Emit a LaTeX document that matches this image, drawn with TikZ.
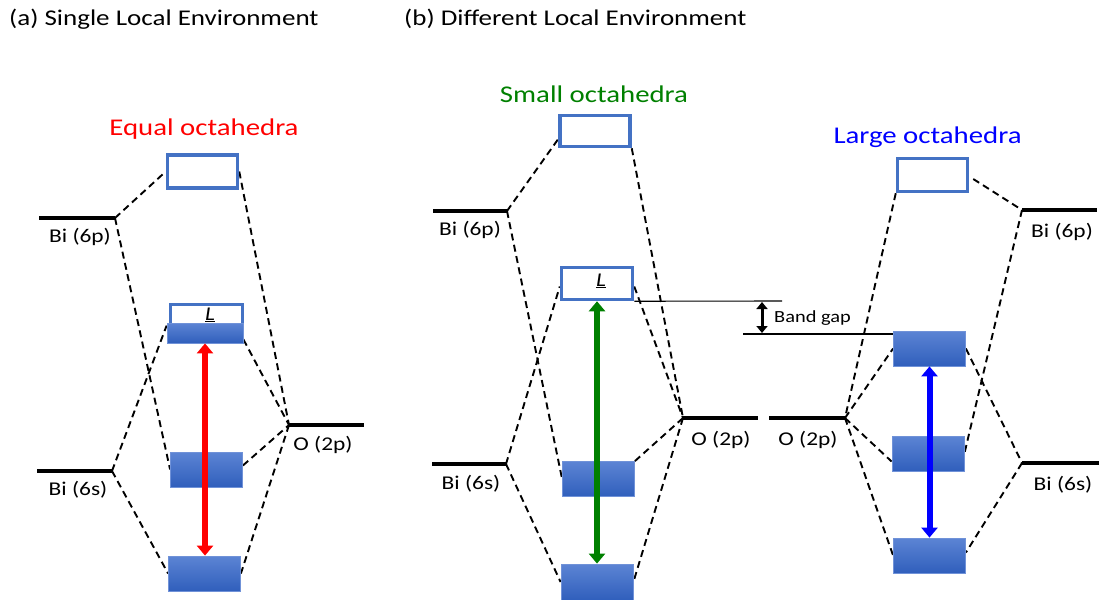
\documentclass[tikz,border=0pt]{standalone}
\usepackage{fontspec}
\setmainfont{Carlito}[FakeStretch=1.2]
\usetikzlibrary{arrows.meta,calc}
\definecolor{oboxc}{RGB}{68,114,196}
\definecolor{ftop}{RGB}{92,132,212}
\definecolor{fbot}{RGB}{48,95,188}
\definecolor{fedge}{RGB}{112,146,216}
\definecolor{grn}{RGB}{0,128,0}
\pgfdeclarelayer{bg}
\pgfsetlayers{bg,main}
\begin{document}
\begin{tikzpicture}[x=1pt,y=-1pt,
  level/.style={line width=4.5pt},
  conn/.style={line width=1.9pt, dash pattern=on 7pt off 4.5pt},
  obox/.style={draw=oboxc, line width=3.5pt, minimum width=70pt, minimum height=33pt, inner sep=0pt, fill=white},
  fbox/.style={draw=fedge, line width=0.8pt, top color=ftop, bottom color=fbot, minimum width=72pt, minimum height=35pt, inner sep=0pt},
  lbl/.style={font=\fontsize{19.5}{22}\selectfont, inner sep=0pt},
  ttl/.style={font=\fontsize{22.5}{26}\selectfont, inner sep=0pt, anchor=west},
  hd/.style={font=\fontsize{24}{28}\selectfont, inner sep=0pt},
  bigarrow/.style={line width=6.5pt, {Triangle[width=16pt,length=10pt]}-{Triangle[width=16pt,length=10pt]}},
  gaparrow/.style={line width=3pt, {Triangle[width=11pt,length=7pt]}-{Triangle[width=11pt,length=7pt]}},
  thin/.style={line width=1.1pt}
]
\useasboundingbox (0,0) rectangle (1099,599);

% titles
\node[ttl] (ta) at (9,19) {(a) Single Local Environment};
\node[ttl] (tb) at (404,19) {(b) Different Local Environment};
\node[hd, text=red] (hA) at (204,129) {Equal octahedra};
\node[hd, text=grn] (hS) at (594,94) {Small octahedra};
\node[hd, text=blue] (hL) at (927.5,137.5) {Large octahedra};

% ---------- (a) boxes
\node[obox] (topA) at (202.5,171.5) {};
\node[obox, minimum width=72pt, minimum height=35pt] (LAo) at (206.5,322) {};
\node[fbox, minimum width=76pt, minimum height=20pt] (LAf) at (205,333) {};
\node[lbl] (LAl) at (210,315) {\underline{\textit{L}}};
\node[fbox] (midA) at (206.5,469.5) {};
\node[fbox] (botA) at (204.5,573.5) {};

% ---------- (b) small boxes
\node[obox, minimum height=31pt] (topS) at (595,131) {};
\node[obox, minimum width=71pt, minimum height=32pt] (LS) at (597,283.5) {};
\node[lbl] (LSl) at (601,281) {\underline{\textit{L}}};
\node[fbox] (midS) at (598.5,479) {};
\node[fbox, minimum height=36pt] (botS) at (597,582) {};

% ---------- (b) large boxes
\node[obox] (topL) at (932.5,175) {};
\node[fbox] (homoL) at (929.5,348.5) {};
\node[fbox] (midL) at (928,453.5) {};
\node[fbox] (botL) at (929.5,555.5) {};

% ---------- level coordinates
\coordinate (A6pL) at (39,218);   \coordinate (A6p) at (115,218);
\coordinate (A6sL) at (37,471);   \coordinate (A6s) at (112,471);
\coordinate (AO) at (289,425);    \coordinate (AOR) at (364,425);
\coordinate (S6pL) at (433,211);  \coordinate (S6p) at (507,211);
\coordinate (S6sL) at (432,464);  \coordinate (S6s) at (506,464);
\coordinate (SO) at (683,418);    \coordinate (SOR) at (758,418);
\coordinate (LOL) at (769,418);   \coordinate (LO) at (845,418);
\coordinate (L6p) at (1022,210);  \coordinate (L6pR) at (1097,210);
\coordinate (L6s) at (1022,463);  \coordinate (L6sR) at (1099,463);

\draw[level] (A6pL) -- (A6p);
\draw[level] (A6sL) -- (A6s);
\draw[level] (AO) -- (AOR);
\draw[level] (S6pL) -- (S6p);
\draw[level] (S6sL) -- (S6s);
\draw[level] (SO) -- (SOR);
\draw[level] (LOL) -- (LO);
\draw[level] (L6p) -- (L6pR);
\draw[level] (L6s) -- (L6sR);

% level labels
\node[lbl] (lA6p) at (80,237) {Bi (6p)};
\node[lbl] (lA6s) at (78,490) {Bi (6s)};
\node[lbl] (lAO) at (323,445) {O (2p)};
\node[lbl] (lS6p) at (470,230) {Bi (6p)};
\node[lbl] (lS6s) at (471,484) {Bi (6s)};
\node[lbl] (lSO) at (721,440) {O (2p)};
\node[lbl] (lLO) at (808,440) {O (2p)};
\node[lbl] (lL6p) at (1062,232) {Bi (6p)};
\node[lbl] (lL6s) at (1063,485) {Bi (6s)};

% ---------- dashed correlation lines (behind)
\begin{pgfonlayer}{bg}
\draw[conn] (A6p) -- (topA.west);
\draw[conn] (A6p) -- (midA.west);
\draw[conn] (topA.east) -- (AO);
\draw[conn] (A6s) -- ([yshift=-3pt]LAf.north west);
\draw[conn] ([yshift=4pt]LAf.south east) -- (AO);
\draw[conn] ([yshift=4pt]midA.east) -- (AO);
\draw[conn] (A6s) -- (botA.west);
\draw[conn] (AO) -- (botA.east);

\draw[conn] (S6p) -- ([yshift=-8pt]topS.west);
\draw[conn] (S6p) -- (midS.west);
\draw[conn] (topS.south east) -- (SO);
\draw[conn] (S6s) -- ([yshift=-3pt]LS.west);
\draw[conn] ([yshift=-3pt]LS.east) -- (SO);
\draw[conn] (midS.north east) -- (SO);
\draw[conn] (S6s) -- (botS.west);
\draw[conn] (SO) -- (botS.east);

\draw[conn] ([xshift=4pt,yshift=-4pt]topL.east) -- (L6p);
\draw[conn] (topL.south west) -- (LO);
\draw[conn] (L6p) -- (midL.east);
\draw[conn] (LO) -- (homoL.west);
\draw[conn] (homoL.east) -- (L6s);
\draw[conn] (LO) -- ([yshift=-8pt]midL.west);
\draw[conn] (LO) -- (botL.west);
\draw[conn] (L6s) -- ([yshift=3pt]botL.east);
\end{pgfonlayer}

% ---------- band gap
\coordinate (bgT) at (782,301);
\coordinate (bgB) at (743,334);
\draw[thin] (LS.south east) -- (bgT);
\draw[thin] (bgB) -- (bgB -| homoL.west);
\draw[gaparrow] (762,302) -- (762,333);
\node[font=\fontsize{17}{19}\selectfont, inner sep=0pt, anchor=west] (bgl) at (774,318) {Band gap};

% ---------- transitions
\draw[bigarrow, red] (LAf.south) -- (LAf.south |- botA.north);
\draw[bigarrow, grn, line width=6pt] (LS.south) -- (LS.south |- botS.north);
\draw[bigarrow, blue, line width=6pt] (homoL.south) -- (botL.north);
\end{tikzpicture}
\end{document}
